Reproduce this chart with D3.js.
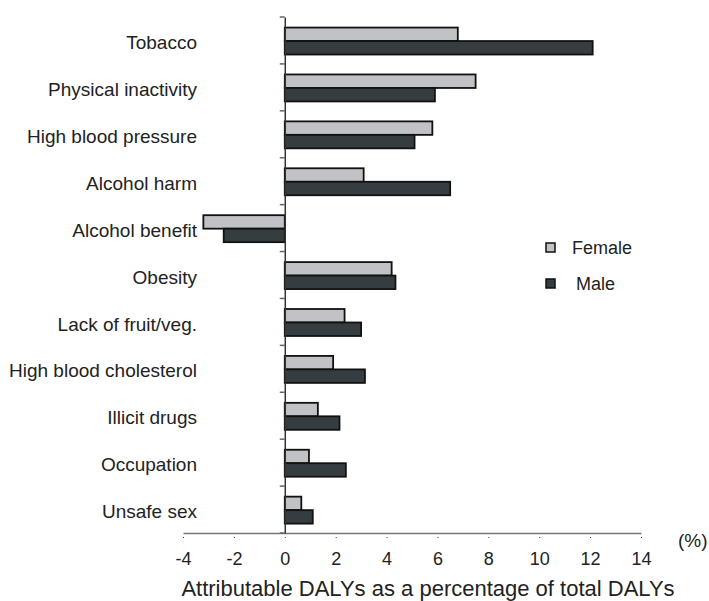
<!DOCTYPE html>
<html>
<head>
<meta charset="utf-8">
<script src="https://cdn.jsdelivr.net/npm/d3@7"></script>
<style>
  body { margin: 0; background: #fff; }
  text { font-family: "Liberation Sans", Arial, sans-serif; fill: #222; }
</style>
</head>
<body>
<svg></svg>
<script>
const width = 709
const height = 601

const categories = ['Tobacco', 'Physical inactivity', 'High blood pressure', 'Alcohol harm',
	'Alcohol benefit', 'Obesity', 'Lack of fruit/veg.', 'High blood cholesterol',
	'Illicit drugs', 'Occupation', 'Unsafe sex']
const series = ['Female', 'Male']
const female = [6.8, 7.5, 5.8, 3.1, -3.2, 4.2, 2.35, 1.9, 1.3, 0.95, 0.65]
const male = [12.1, 5.9, 5.1, 6.5, -2.4, 4.35, 3.0, 3.15, 2.15, 2.4, 1.1]
const xTicks = [-4, -2, 0, 2, 4, 6, 8, 10, 12, 14]

const colors = { Female: '#c1c2c6', Male: '#363d40' }

const svg = d3.select('svg')
	.attr('width', width)
	.attr('height', height)

const x = d3.scaleLinear().domain([-4, 14]).range([183, 641])
const y = d3.scaleBand().domain(categories).range([17, 533])
const ySub = d3.scaleBand().domain(series)
	.range([y.bandwidth() * 0.225, y.bandwidth() * 0.8])

const rows = categories.map(function (c, i) {
	return { cat: c, Female: female[i], Male: male[i] }
})

// bars
const g = svg.append('g')
g.selectAll('g.row')
	.data(rows)
	.enter()
	.append('g')
	.attr('transform', d => 'translate(0,' + y(d.cat) + ')')
	.selectAll('rect')
	.data(d => series.map(s => ({ s: s, v: d[s] })))
	.enter()
	.append('rect')
	.attr('x', d => x(Math.min(0, d.v)))
	.attr('width', d => Math.abs(x(d.v) - x(0)))
	.attr('y', d => ySub(d.s))
	.attr('height', ySub.bandwidth())
	.attr('fill', d => colors[d.s])
	.attr('stroke', '#111')
	.attr('stroke-width', 1.8)

// x axis
const xAxis = svg.append('g')
	.attr('transform', 'translate(0,533)')
	.call(d3.axisBottom(x).tickValues(xTicks).tickSize(0).tickPadding(0).tickFormat(''))
xAxis.select('.domain').attr('stroke', '#777').attr('stroke-width', 1.5)
xAxis.selectAll('.tick').append('rect')
	.attr('x', -0.5).attr('y', 4).attr('width', 1).attr('height', 1).attr('fill', '#333')
xAxis.selectAll('.tick').append('text')
	.attr('y', 26)
	.attr('dy', '0.35em')
	.attr('text-anchor', 'middle')
	.style('font-size', '18px')
	.text(d => d)

// y axis at zero
const yAxis = svg.append('g')
	.attr('transform', 'translate(' + x(0) + ',0)')
	.call(d3.axisLeft(y).tickValues([]).tickSizeOuter(0))
yAxis.select('.domain').attr('stroke', '#333').attr('stroke-width', 1.5)
yAxis.selectAll('line.sep')
	.data(d3.range(categories.length + 1))
	.enter()
	.append('line')
	.attr('class', 'sep')
	.attr('x1', -5).attr('x2', 0)
	.attr('y1', i => 17 + i * y.step())
	.attr('y2', i => 17 + i * y.step())
	.attr('stroke', '#666').attr('stroke-width', 1.5)

// category labels
svg.append('g').selectAll('text')
	.data(categories)
	.enter()
	.append('text')
	.attr('x', 197)
	.attr('y', d => y(d) + y.bandwidth() / 2 + 2)
	.attr('dy', '0.35em')
	.attr('text-anchor', 'end')
	.style('font-size', '19px')
	.text(d => d)

// legend
const legend = svg.append('g')
const legendY = { Female: 248, Male: 284 }
const legendX = { Female: 572, Male: 576 }
series.forEach(function (s) {
	legend.append('rect')
		.attr('x', 546).attr('y', legendY[s] - 5)
		.attr('width', 9).attr('height', 9)
		.attr('fill', colors[s]).attr('stroke', '#111').attr('stroke-width', 1.5)
	legend.append('text')
		.attr('x', legendX[s]).attr('y', legendY[s])
		.attr('dy', '0.35em')
		.style('font-size', '18px')
		.text(s)
})

svg.append('text')
	.attr('x', 678).attr('y', 540)
	.attr('dy', '0.35em')
	.style('font-size', '19px')
	.text('(%)')

svg.append('text')
	.attr('x', 428).attr('y', 596)
	.attr('text-anchor', 'middle')
	.style('font-size', '22px')
	.text('Attributable DALYs as a percentage of total DALYs')
</script>
</body>
</html>
